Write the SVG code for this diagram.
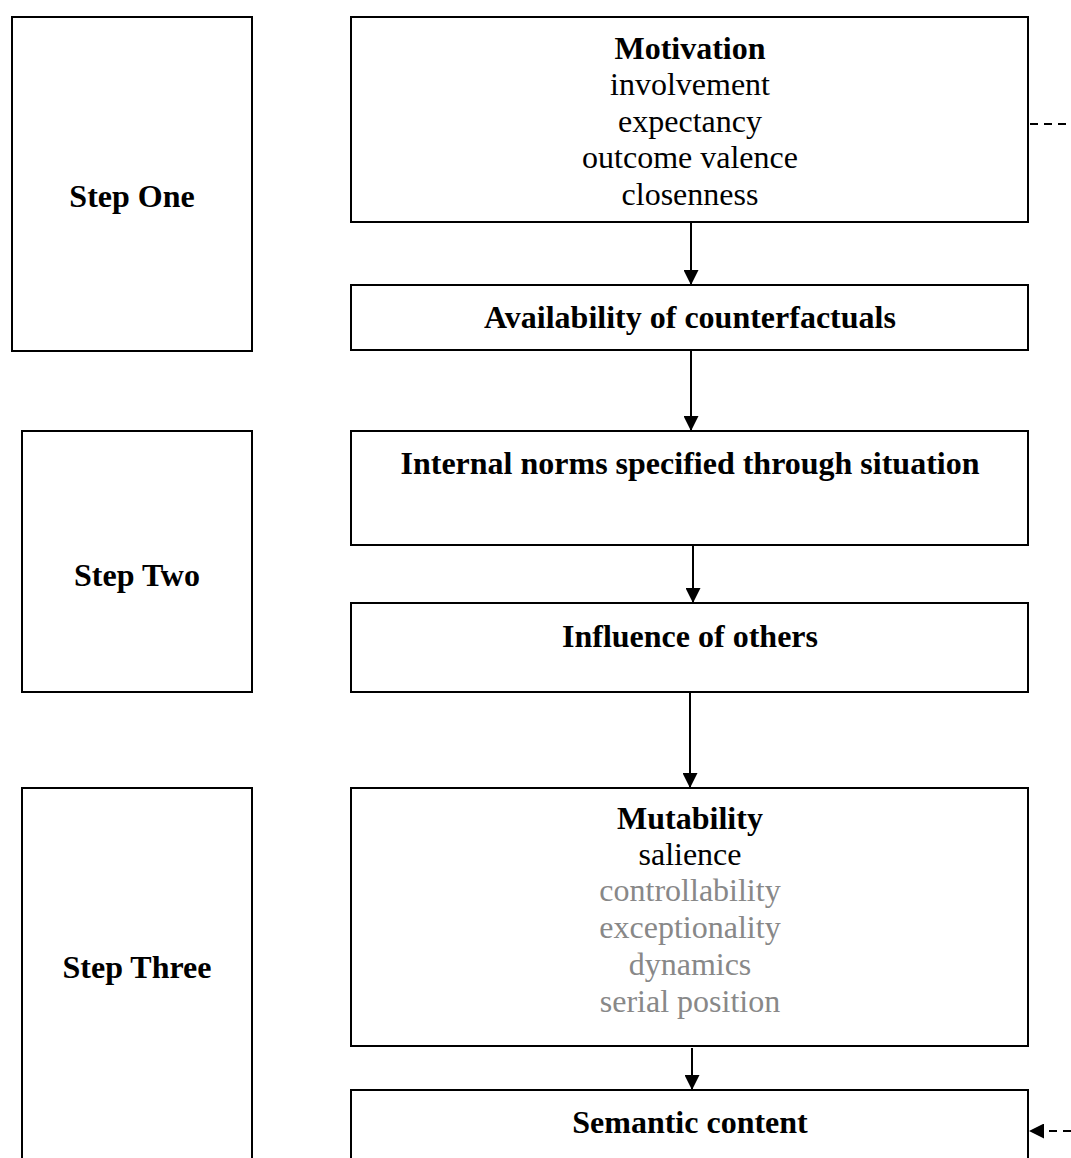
<svg xmlns="http://www.w3.org/2000/svg" width="1071" height="1158" viewBox="0 0 1071 1158" font-family="'Liberation Serif', 'Times New Roman', Times, serif">
<style>
.box{fill:#fff;stroke:#000;stroke-width:2}
text{font-family:'Liberation Serif','Times New Roman',Times,serif;font-size:32px;text-anchor:middle;fill:#000}
.b{font-weight:bold}
.g{fill:#888}
.c{stroke:#000;stroke-width:2;fill:none}
.d{stroke:#000;stroke-width:2;fill:none;stroke-dasharray:8,6}
</style>
<defs>
<marker id="ah" markerWidth="15" markerHeight="15" refX="15" refY="7.5" orient="auto" markerUnits="userSpaceOnUse">
<path d="M0,0 L15,7.5 L0,15 Z" fill="#000"/>
</marker>
</defs>
<rect width="1071" height="1158" fill="#fff"/>
<g id="step-one"><rect class="box" x="12" y="17" width="240" height="334"/><text class="b" x="132" y="207">Step One</text></g>
<g id="step-two"><rect class="box" x="22" y="431" width="230" height="261"/><text class="b" x="137" y="586">Step Two</text></g>
<g id="step-three"><rect class="box" x="22" y="788" width="230" height="390"/><text class="b" x="137" y="978">Step Three</text></g>
<g id="motivation"><rect class="box" x="351" y="17" width="677" height="205"/>
<text class="b" x="690" y="59">Motivation</text>
<text x="690" y="95">involvement</text>
<text x="690" y="132">expectancy</text>
<text x="690" y="168">outcome valence</text>
<text x="690" y="205">closenness</text></g>
<g id="availability"><rect class="box" x="351" y="285" width="677" height="65"/><text class="b" x="690" y="328">Availability of counterfactuals</text></g>
<g id="internal-norms"><rect class="box" x="351" y="431" width="677" height="114"/><text class="b" x="690" y="474">Internal norms specified through situation</text></g>
<g id="influence"><rect class="box" x="351" y="603" width="677" height="89"/><text class="b" x="690" y="647">Influence of others</text></g>
<g id="mutability"><rect class="box" x="351" y="788" width="677" height="258"/>
<text class="b" x="690" y="829">Mutability</text>
<text x="690" y="865">salience</text>
<text class="g" x="690" y="901">controllability</text>
<text class="g" x="690" y="938">exceptionality</text>
<text class="g" x="690" y="975">dynamics</text>
<text class="g" x="690" y="1012">serial position</text></g>
<g id="semantic"><rect class="box" x="351" y="1090" width="677" height="90"/><text class="b" x="690" y="1133">Semantic content</text></g>
<g id="connectors">
<line class="c" x1="691" y1="222" x2="691" y2="285" marker-end="url(#ah)"/>
<line class="c" x1="691" y1="350" x2="691" y2="431" marker-end="url(#ah)"/>
<line class="c" x1="693" y1="545" x2="693" y2="603" marker-end="url(#ah)"/>
<line class="c" x1="690" y1="692" x2="690" y2="788" marker-end="url(#ah)"/>
<line class="c" x1="692" y1="1048" x2="692" y2="1090" marker-end="url(#ah)"/>
<line class="d" x1="1030" y1="124" x2="1071" y2="124"/>
<line class="d" x1="1071" y1="1131" x2="1029" y2="1131" marker-end="url(#ah)"/>
</g>
</svg>
